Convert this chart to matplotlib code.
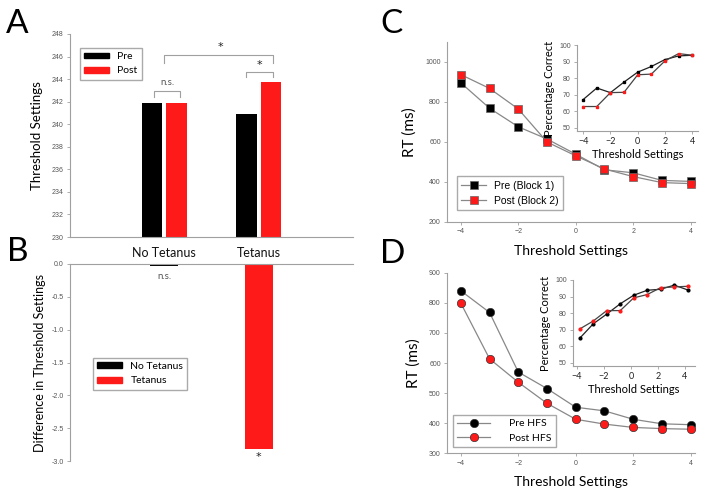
# Threshold settings / RT figure (panels A-D)
import matplotlib
matplotlib.use('Agg')
import matplotlib.pyplot as plt
from matplotlib.patches import Patch

# ---- data ----
conditions = ['No Tetanus', 'Tetanus']
thr_pre = [241.85, 240.9]
thr_post = [241.85, 243.75]
diff_vals = [-0.03, -2.82]

settings = [-4, -3, -2, -1, 0, 1, 2, 3, 4]
rt_c_pre = [896, 769, 676, 615, 539, 461, 446, 408, 403]
rt_c_post = [937, 868, 765, 600, 531, 465, 427, 397, 392]
pc_c_pre = [67.0, 74.0, 71.2, 77.6, 83.6, 87.0, 91.2, 93.4, 93.8]
pc_c_post = [62.8, 62.8, 71.2, 71.4, 82.0, 82.4, 90.4, 94.8, 93.8]

rt_d_pre = [840, 768, 570, 515, 453, 441, 413, 398, 395]
rt_d_post = [799, 614, 536, 466, 413, 397, 386, 382, 380]
inset_d_x = [-3.8, -2.8, -1.8, -0.8, 0.2, 1.2, 2.2, 3.2, 4.2]
pc_d_pre = [64.8, 73.5, 79.4, 85.6, 90.8, 93.8, 94.4, 96.9, 94.0]
pc_d_post = [70.4, 75.2, 81.5, 81.5, 89.2, 91.2, 95.4, 95.8, 96.2]

RED = '#ff1a1a'
GREY = '#a0a0a0'
TICKC = '#555555'
LAB = ['Lato', 'DejaVu Sans']
TICKF = ['Liberation Sans', 'DejaVu Sans']

W, H = 714, 495
fig = plt.figure(figsize=(W / 100, H / 100), dpi=100)


def box(l, t, r, b):
    return [l / W, 1 - b / H, (r - l) / W, (b - t) / H]


def style(ax, tsize=5, tcolor=TICKC):
    for s in ['top', 'right']:
        ax.spines[s].set_visible(False)
    for s in ['left', 'bottom']:
        ax.spines[s].set_color(GREY)
        ax.spines[s].set_linewidth(0.8)
    ax.tick_params(direction='out', length=2.5, width=0.6, color=GREY,
                   labelsize=tsize, labelcolor=tcolor, pad=2)
    for lb in ax.get_xticklabels() + ax.get_yticklabels():
        lb.set_family(TICKF)


# ---- A ----
axA = fig.add_axes(box(70, 34, 353, 237))
xc = [1, 2]
axA.bar([x - 0.13 for x in xc], [v - 230 for v in thr_pre], 0.22, bottom=230, color='black')
axA.bar([x + 0.13 for x in xc], [v - 230 for v in thr_post], 0.22, bottom=230, color=RED)
axA.set_xlim(0, 3)
axA.set_ylim(230, 248)
axA.set_yticks(range(230, 249, 2))
axA.set_xticks(xc)
style(axA)
axA.set_xticklabels(conditions, family=LAB, fontsize=9, color='#111111')
axA.tick_params(axis='x', length=0, pad=7, labelsize=9, labelcolor='#111111')
axA.set_ylabel('Threshold Settings', family=LAB, fontsize=9.5, labelpad=6)

# significance brackets
def bracket(ax, x0, x1, y, drop):
    ax.plot([x0, x0, x1, x1], [y - drop, y, y, y - drop], color=GREY, lw=0.8)

bracket(axA, 0.89, 1.17, 242.95, 0.55)
axA.text(1.03, 243.3, 'n.s.', ha='center', va='bottom', fontsize=7, color='#555555', family=LAB)
bracket(axA, 1.0, 2.15, 246.15, 0.7)
axA.text(1.6, 246.4, '*', ha='center', va='bottom', fontsize=8, color='#222222')
bracket(axA, 1.87, 2.15, 244.65, 0.5)
axA.text(2.01, 244.85, '*', ha='center', va='bottom', fontsize=8, color='#222222')

axA.legend(handles=[Patch(color='black', label='Pre'), Patch(color=RED, label='Post')],
           loc='upper left', bbox_to_anchor=(0.035, 0.931), borderaxespad=0,
           prop={'family': LAB, 'size': 7.5}, fancybox=False, edgecolor='#aaaaaa',
           handlelength=2.4, handleheight=0.5, framealpha=1)

# ---- B ----
axB = fig.add_axes(box(70, 264, 353, 461))
axB.bar(xc[0], diff_vals[0], 0.3, color='black')
axB.bar(xc[1], diff_vals[1], 0.3, color=RED)
axB.set_xlim(0, 3)
axB.set_ylim(-3.0, 0)
axB.set_yticks([0, -0.5, -1.0, -1.5, -2.0, -2.5, -3.0])
axB.set_yticklabels(['0.0', '-0.5', '-1.0', '-1.5', '-2.0', '-2.5', '-3.0'])
axB.set_xticks([])
style(axB)
axB.spines['bottom'].set_visible(False)
axB.spines['top'].set_visible(True)
axB.spines['top'].set_color(GREY)
axB.spines['top'].set_linewidth(0.8)
axB.set_ylabel('Difference in Threshold Settings', family=LAB, fontsize=9, labelpad=4)
axB.text(1.0, -0.12, 'n.s.', ha='center', va='top', fontsize=7, color='#555555', family=LAB)
axB.text(2.0, -2.87, '*', ha='center', va='top', fontsize=8, color='#222222')
axB.legend(handles=[Patch(color='black', label='No Tetanus'), Patch(color=RED, label='Tetanus')],
           loc='upper left', bbox_to_anchor=(0.081, 0.523), borderaxespad=0,
           prop={'family': LAB, 'size': 7.5}, fancybox=False, edgecolor='#aaaaaa',
           handlelength=2.4, handleheight=0.5, framealpha=1)

# ---- C ----
axC = fig.add_axes(box(447, 42, 695, 222))
axC.plot(settings, rt_c_pre, '-s', color='#888888', lw=0.9, mfc='black', mec='#666666',
         mew=0.5, ms=5.5, label='Pre (Block 1)')
axC.plot(settings, rt_c_post, '-s', color='#888888', lw=0.9, mfc=RED, mec='#666666',
         mew=0.5, ms=5.5, label='Post (Block 2)')
axC.set_xlim(-4.48, 4.15)
axC.set_ylim(200, 1100)
axC.set_xticks([-4, -2, 0, 2, 4])
axC.set_yticks([200, 400, 600, 800, 1000])
style(axC)
axC.set_ylabel('RT (ms)', family=LAB, fontsize=11, labelpad=6)
axC.set_xlabel('Threshold Settings', family=LAB, fontsize=10, labelpad=7)
axC.legend(loc='lower left', bbox_to_anchor=(0.04, 0.067), borderaxespad=0,
           prop={'family': TICKF, 'size': 7.5}, fancybox=False, edgecolor='#aaaaaa',
           handlelength=2.4, framealpha=1)

axCi = fig.add_axes(box(577, 45, 698, 131))
axCi.plot(settings, pc_c_pre, '-s', color='#222222', lw=0.9, mfc='black', mec='black', ms=2)
axCi.plot(settings, pc_c_post, '-s', color='#444444', lw=0.9, mfc=RED, mec=RED, ms=2)
axCi.set_xlim(-4.45, 4.42)
axCi.set_ylim(48, 100)
axCi.set_xticks([-4, -2, 0, 2, 4])
axCi.set_yticks([50, 60, 70, 80, 90, 100])
style(axCi)
axCi.tick_params(axis='x', labelsize=6.5, labelcolor='#222222')
for lb in axCi.get_xticklabels():
    lb.set_family(LAB)
axCi.set_ylabel('Percentage Correct', family=LAB, fontsize=8, labelpad=3)
axCi.set_xlabel('Threshold Settings', family=LAB, fontsize=8, labelpad=2)

# ---- D ----
axD = fig.add_axes(box(447, 272.7, 695, 453.3))
axD.plot(settings, rt_d_pre, '-o', color='#888888', lw=0.9, mfc='black', mec='#333333',
         mew=0.5, ms=6, label='Pre HFS')
axD.plot(settings, rt_d_post, '-o', color='#888888', lw=0.9, mfc=RED, mec='#333333',
         mew=0.5, ms=6, label='Post HFS')
axD.set_xlim(-4.48, 4.15)
axD.set_ylim(300, 900)
axD.set_xticks([-4, -2, 0, 2, 4])
axD.set_yticks(range(300, 901, 100))
style(axD)
axD.set_ylabel('RT (ms)', family=LAB, fontsize=11, labelpad=6)
axD.set_xlabel('Threshold Settings', family=LAB, fontsize=10, labelpad=7)
axD.legend(loc='lower left', bbox_to_anchor=(0.024, 0.035), borderaxespad=0,
           prop={'family': LAB, 'size': 7.5}, fancybox=False, edgecolor='#aaaaaa',
           handlelength=3.2, framealpha=1, handletextpad=1.8)

axDi = fig.add_axes(box(573, 280, 695, 366))
axDi.plot(inset_d_x, pc_d_pre, '-o', color='#222222', lw=0.9, mfc='black', mec='black', ms=2)
axDi.plot(inset_d_x, pc_d_post, '-o', color='#444444', lw=0.9, mfc=RED, mec=RED, ms=2)
axDi.set_xlim(-4.3, 4.74)
axDi.set_ylim(48, 100)
axDi.set_xticks([-4, -2, 0, 2, 4])
axDi.set_yticks([50, 60, 70, 80, 90, 100])
style(axDi)
axDi.tick_params(axis='x', labelsize=6.5, labelcolor='#222222')
for lb in axDi.get_xticklabels():
    lb.set_family(LAB)
axDi.set_ylabel('Percentage Correct', family=LAB, fontsize=8, labelpad=3)
axDi.set_xlabel('Threshold Settings', family=LAB, fontsize=8, labelpad=2)

# panel letters
for letter, x, y in [('A', 6, 33), ('B', 7, 261), ('C', 380, 33), ('D', 380, 263)]:
    fig.text(x / W, 1 - y / H, letter, fontsize=24, family=LAB, va='baseline', ha='left')

fig.savefig('out.png', dpi=100)
